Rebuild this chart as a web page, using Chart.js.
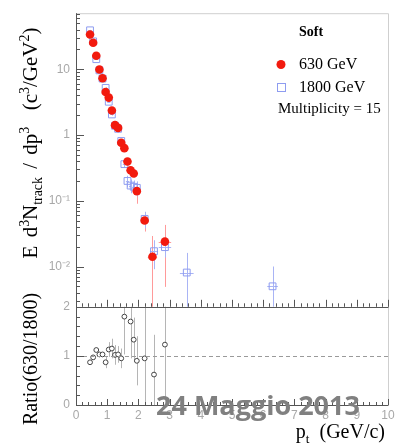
<!DOCTYPE html>
<html>
<head>
<meta charset="utf-8">
<script src="https://cdn.jsdelivr.net/npm/chart.js@4.4.0/dist/chart.umd.min.js"></script>
<style>
  html, body { margin: 0; padding: 0; background: #fff; }
  #wrap { position: relative; width: 403px; height: 444px; overflow: hidden; }
  #chart { position: absolute; left: 0; top: 0; }
  .title { position: absolute; font-family: "Liberation Serif", "Times New Roman", serif; font-size: 20px; color: #000; white-space: nowrap; line-height: 1; }
  .rot { transform: translate(-50%, -50%) rotate(-90deg); }
  .title sup, .title sub { font-size: 66%; line-height: 0; }
  #ytop { font-size: 21px; word-spacing: 3px; }
  #stamp { position: absolute; left: 156px; top: 391px; font-family: "Open Sans", "DejaVu Sans", sans-serif; font-weight: 700; font-size: 27px; color: #808080; white-space: nowrap; line-height: 1; }
</style>
</head>
<body>
<div id="wrap">
  <canvas id="chart" width="403" height="444"></canvas>
  <div id="ytop" class="title rot" style="left:30px; top:143px;">E d<sup>3</sup>N<sub>track</sub> / dp<sup>3</sup>&nbsp;&nbsp;(c<sup>3</sup>/GeV<sup>2</sup>)</div>
  <div class="title rot" style="left:30px; top:359px;">Ratio(630/1800)</div>
  <div class="title" style="right:18px; top:421px;">p<sub>t</sub>&nbsp; (GeV/c)</div>
  <div id="stamp">24 Maggio 2013</div>
</div>
<script>
// 630 GeV (red dots)
const pt630 = [0.45, 0.55, 0.65, 0.75, 0.85, 0.95, 1.05, 1.15, 1.25, 1.35, 1.45, 1.55, 1.65, 1.75, 1.85, 1.95, 2.2, 2.45, 2.85];
const y630 = [33.6, 25.3, 16.0, 9.9, 7.3, 4.5, 3.7, 2.36, 1.41, 1.28, 0.76, 0.63, 0.395, 0.29, 0.26, 0.14, 0.050, 0.0141, 0.0239];
const ey630 = [0.5, 0.4, 0.3, 0.2, 0.15, 0.1, 0.1, 0.08, 0.06, 0.06, 0.05, 0.05, 0.04, 0.035, 0.035, 0.05, 0.016, 0.015, 0.019];
const ex630 = [0.05, 0.05, 0.05, 0.05, 0.05, 0.05, 0.05, 0.05, 0.05, 0.05, 0.05, 0.05, 0.05, 0.05, 0.05, 0.05, 0.12, 0.15, 0.2];

// 1800 GeV (open squares)
const pt1800 = [0.45, 0.55, 0.65, 0.75, 0.85, 0.95, 1.05, 1.15, 1.25, 1.35, 1.45, 1.55, 1.65, 1.75, 1.85, 1.95, 2.2, 2.5, 2.85, 3.55, 6.3];
const y1800 = [39, 26.5, 14.2, 9.6, 7.2, 5.2, 3.2, 2.05, 1.38, 1.24, 0.81, 0.36, 0.20, 0.17, 0.163, 0.157, 0.053, 0.0171, 0.0197, 0.0081, 0.0050];
const ey1800 = [0.6, 0.5, 0.3, 0.2, 0.15, 0.12, 0.1, 0.08, 0.06, 0.06, 0.05, 0.04, 0.04, 0.04, 0.04, 0.04, 0.015, 0.008, 0.006, 0.008, 0.005];
const ex1800 = [0.05, 0.05, 0.05, 0.05, 0.05, 0.05, 0.05, 0.05, 0.05, 0.05, 0.05, 0.05, 0.05, 0.05, 0.05, 0.05, 0.12, 0.13, 0.2, 0.22, 0.17];

// Ratio 630/1800
const ptRatio = [0.45, 0.55, 0.65, 0.75, 0.85, 0.95, 1.05, 1.15, 1.25, 1.35, 1.45, 1.55, 1.75, 1.85, 1.95, 2.2, 2.5, 2.85];
const ratio = [0.87, 0.97, 1.12, 1.03, 1.03, 0.87, 1.13, 1.15, 1.02, 1.03, 0.95, 1.80, 1.70, 1.33, 0.90, 0.95, 0.62, 1.23];
const eRatio = [0.03, 0.03, 0.05, 0.05, 0.05, 0.12, 0.15, 0.2, 0.2, 0.17, 0.2, 0.77, 0.75, 0.45, 0.5, 1.6, 0.81, 1.6];

// Axis ticks
const xTicks = [0, 1, 2, 3, 4, 5, 6, 7, 8, 9, 10];
const yTicks = [0.01, 0.1, 1, 10];
const yTickLabels = ['10\u207B\u00B2', '10\u207B\u00B9', '1', '10'];
const rTicks = [0, 1, 2];

const legendTitle = 'Soft';
const legendNote = 'Multiplicity = 15';

const toPoints = (xs, ys) => xs.map((x, i) => ({ x: x, y: ys[i] }));

// Error bars, clipped to the panel of each dataset
const errorBars = {
    id: 'errorBars',
    beforeDatasetsDraw(chart) {
        const ctx = chart.ctx;
        const xs = chart.scales.x;
        chart.data.datasets.forEach(ds => {
            const ys = chart.scales[ds.yAxisID];
            ctx.save();
            ctx.beginPath();
            ctx.rect(xs.left, ys.top, xs.right - xs.left, ys.bottom - ys.top);
            ctx.clip();
            ctx.strokeStyle = ds.errColor;
            ctx.lineWidth = 1;
            ds.data.forEach((p, j) => {
                const px = Math.round(xs.getPixelForValue(p.x)) + 0.5;
                const py = Math.round(ys.getPixelForValue(p.y)) + 0.5;
                const ey = ds.errY[j];
                const lo = p.y - ey;
                const pyHi = ys.getPixelForValue(p.y + ey);
                const pyLo = (ys.type === 'logarithmic' && lo <= 0) ? ys.bottom + 5 : ys.getPixelForValue(lo);
                ctx.beginPath();
                ctx.moveTo(px, pyHi);
                ctx.lineTo(px, pyLo);
                if (ds.errX) {
                    const ex = ds.errX[j];
                    ctx.moveTo(xs.getPixelForValue(p.x - ex), py);
                    ctx.lineTo(xs.getPixelForValue(p.x + ex), py);
                }
                ctx.stroke();
            });
            ctx.restore();
        });
    }
};

// Frame, inward tick marks, dashed unity line, legend
const frame = {
    id: 'frame',
    afterDatasetsDraw(chart) {
        const ctx = chart.ctx;
        const xs = chart.scales.x, yl = chart.scales.y, yr = chart.scales.y2;
        const L = xs.left, R = xs.right;
        ctx.save();

        // dashed line at ratio = 1
        ctx.strokeStyle = '#9a9a9a';
        ctx.lineWidth = 1;
        ctx.setLineDash([4, 3]);
        const y1 = Math.round(yr.getPixelForValue(1)) + 0.5;
        ctx.beginPath();
        ctx.moveTo(L, y1);
        ctx.lineTo(R, y1);
        ctx.stroke();
        ctx.setLineDash([]);

        // light outer edges
        ctx.strokeStyle = '#cfcfcf';
        ctx.beginPath();
        ctx.moveTo(L, yl.top + 0.5);
        ctx.lineTo(R + 0.5, yl.top + 0.5);
        ctx.lineTo(R + 0.5, yr.bottom);
        ctx.stroke();

        // dark axes
        ctx.strokeStyle = '#555';
        ctx.beginPath();
        ctx.moveTo(L + 0.5, yl.top);
        ctx.lineTo(L + 0.5, yr.bottom + 0.5);
        ctx.lineTo(R + 0.5, yr.bottom + 0.5);
        ctx.moveTo(L, Math.round(yl.bottom) + 0.5);
        ctx.lineTo(R + 0.5, Math.round(yl.bottom) + 0.5);
        ctx.stroke();

        // ticks
        ctx.beginPath();
        for (let k = 0; k <= 50; k++) {
            const v = k * 0.2;
            const px = Math.round(xs.getPixelForValue(v)) + 0.5;
            const major = k % 5 === 0;
            ctx.moveTo(px, yl.bottom);
            ctx.lineTo(px, yl.bottom - (major ? 7 : 3.5));
            ctx.moveTo(px, yr.bottom);
            ctx.lineTo(px, yr.bottom - (major ? 6 : 3));
        }
        for (let d = -3; d <= 1; d++) {
            for (let m = 1; m <= 9; m++) {
                const v = m * Math.pow(10, d);
                if (v < yl.min || v > yl.max) continue;
                const py = Math.round(yl.getPixelForValue(v)) + 0.5;
                ctx.moveTo(L, py);
                ctx.lineTo(L + (m === 1 ? 8 : 4), py);
            }
        }
        for (let k = 0; k <= 10; k++) {
            const py = Math.round(yr.getPixelForValue(k * 0.2)) + 0.5;
            ctx.moveTo(L, py);
            ctx.lineTo(L + (k % 5 === 0 ? 8 : 4), py);
        }
        ctx.stroke();

        // legend
        const dsA = chart.data.datasets[0], dsB = chart.data.datasets[1];
        ctx.fillStyle = '#000';
        ctx.textBaseline = 'middle';
        ctx.textAlign = 'left';
        ctx.font = 'bold 14px "Liberation Serif", serif';
        ctx.fillText(legendTitle, 299, 32);
        ctx.font = '16px "Liberation Serif", serif';
        ctx.fillText(dsA.label, 299, 65);
        ctx.fillText(dsB.label, 299, 88);
        ctx.font = '15px "Liberation Serif", serif';
        ctx.fillText(legendNote, 278, 109);

        ctx.fillStyle = dsA.backgroundColor;
        ctx.beginPath();
        ctx.arc(281, 64.5, 4.5, 0, Math.PI * 2);
        ctx.fill();
        ctx.strokeStyle = dsB.borderColor;
        ctx.strokeRect(277.5, 83.5, 8, 8);

        ctx.restore();
    }
};

const chart = new Chart(document.getElementById('chart'), {
    type: 'scatter',
    data: {
        datasets: [
            {
                label: '630 GeV',
                data: toPoints(pt630, y630),
                yAxisID: 'y',
                errY: ey630,
                errX: ex630,
                errColor: '#ff9a9a',
                pointStyle: 'circle',
                pointRadius: 4.3,
                backgroundColor: '#f21a0e',
                borderWidth: 0
            },
            {
                label: '1800 GeV',
                data: toPoints(pt1800, y1800),
                yAxisID: 'y',
                errY: ey1800,
                errX: ex1800,
                errColor: '#a9b4f5',
                pointStyle: 'rect',
                pointRadius: 4.8,
                backgroundColor: 'rgba(0,0,0,0)',
                borderColor: '#8e9cf0',
                borderWidth: 1
            },
            {
                label: 'Ratio',
                data: toPoints(ptRatio, ratio),
                yAxisID: 'y2',
                errY: eRatio,
                errColor: '#b5b5b5',
                pointStyle: 'circle',
                pointRadius: 2.4,
                backgroundColor: '#fff',
                borderColor: '#444',
                borderWidth: 1
            }
        ]
    },
    options: {
        responsive: false,
        animation: false,
        layout: { padding: { top: 6, right: 15, left: 0, bottom: 0 } },
        plugins: { legend: { display: false }, tooltip: { enabled: false } },
        scales: {
            x: {
                type: 'linear',
                min: 0,
                max: 10,
                grid: { display: false, drawTicks: false },
                border: { display: false },
                afterBuildTicks: s => { s.ticks = xTicks.map(v => ({ value: v })); },
                afterFit: s => { s.height = 39; },
                ticks: { padding: 3, color: '#a8a8a8', font: { family: 'Liberation Sans', size: 12 }, maxRotation: 0, autoSkip: false }
            },
            y: {
                type: 'logarithmic',
                position: 'left',
                stack: 'panels',
                stackWeight: 299,
                weight: 1,
                min: 0.00244,
                max: 71,
                grid: { display: false, drawTicks: false },
                border: { display: false },
                afterBuildTicks: s => { s.ticks = yTicks.map(v => ({ value: v })); },
                afterFit: s => { s.width = 76; },
                ticks: {
                    padding: 6,
                    color: '#a8a8a8',
                    font: { family: 'Liberation Sans', size: 12 },
                    autoSkip: false,
                    callback: (v) => yTickLabels[yTicks.indexOf(v)]
                }
            },
            y2: {
                type: 'linear',
                position: 'left',
                stack: 'panels',
                stackWeight: 100,
                weight: 0,
                min: 0,
                max: 2,
                grid: { display: false, drawTicks: false },
                border: { display: false },
                afterBuildTicks: s => { s.ticks = rTicks.map(v => ({ value: v })); },
                afterFit: s => { s.width = 76; },
                ticks: { padding: 6, color: '#a8a8a8', font: { family: 'Liberation Sans', size: 12 }, autoSkip: false }
            }
        }
    },
    plugins: [errorBars, frame]
});
</script>
</body>
</html>
